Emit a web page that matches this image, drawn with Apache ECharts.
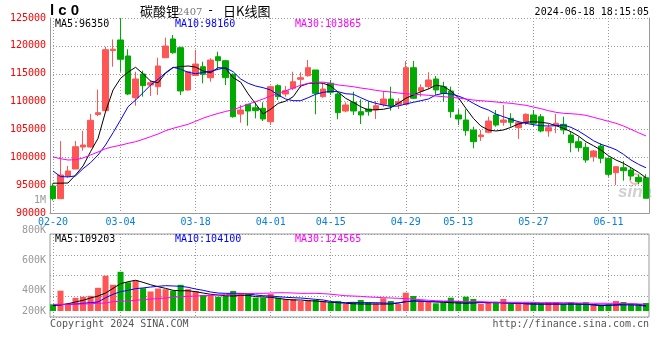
<!DOCTYPE html>
<html><head><meta charset="utf-8">
<script src="https://cdn.jsdelivr.net/npm/echarts@6/dist/echarts.min.js"></script>
<style>html,body{margin:0;padding:0;background:#fff}#c{width:660px;height:360px}</style>
</head><body><div id="c"></div>
<script>
const dates = ['02-20','02-21','02-22','02-23','02-26','02-27','02-28','02-29','03-01',
 '03-04','03-05','03-06','03-07','03-08','03-11','03-12','03-13','03-14','03-15',
 '03-18','03-19','03-20','03-21','03-22','03-25','03-26','03-27','03-28','03-29',
 '04-01','04-02','04-03','04-08','04-09','04-10','04-11','04-12',
 '04-15','04-16','04-17','04-18','04-19','04-22','04-23','04-24','04-25','04-26',
 '04-29','04-30','05-06','05-07','05-08','05-09','05-10',
 '05-13','05-14','05-15','05-16','05-17','05-20','05-21','05-22','05-23','05-24',
 '05-27','05-28','05-29','05-30','05-31','06-03','06-04','06-05','06-06','06-07',
 '06-11','06-12','06-13','06-14','06-17','06-18'];
const tickDates = ['02-20','03-04','03-18','04-01','04-15','04-29','05-13','05-27','06-11'];

const opens = [94890,92620,96680,97940,101880,101880,107700,108390,119170,121060,
 118190,110720,114960,112990,112690,117880,121240,119680,112100,114690,
 116270,114300,118060,117350,114910,107790,109530,108920,108820,106420,
 112870,111380,112400,114010,114660,115680,110900,113300,111380,108330,
 109890,108210,108690,108510,109530,110480,109530,109530,116090,111920,
 112690,114070,112690,111920,107620,106720,104930,103730,104520,107620,
 106310,107020,105340,106310,107620,107310,104750,105820,105950,104030,
 102830,101830,100140,102060,99860,97280,98170,97760,96450,96380];
const closes = [92620,96860,97580,101930,102240,106670,108030,119320,119410,117600,
 111380,114070,112870,113400,116400,119980,118780,111920,115370,116750,
 114910,117470,117350,114300,107310,108510,108330,108390,106900,112690,
 110900,111970,113580,114300,116090,111500,112270,111680,108030,109410,
 108330,107620,108210,109280,110480,109280,110000,116090,110610,112510,
 113890,112100,111500,108210,106900,104800,102830,104030,106540,105820,
 106720,106310,106240,107740,106130,104750,105340,106130,104930,102650,
 101760,99550,101160,99860,96990,98350,97630,96680,95660,92690];
const lows = [92330,92620,96380,97940,101220,101760,107440,108210,116270,115370,
 111200,109280,110900,111020,111200,117880,118600,111200,111970,114600,
 113300,113580,115980,112990,107130,106240,105700,107020,106540,105820,
 110300,110900,112100,112510,114480,107740,110720,111200,106850,108100,
 107620,106000,107490,106900,109100,108390,108690,109410,110480,110900,
 112270,111200,110000,107130,105820,103910,101650,102960,104340,105520,
 105700,105520,103310,105820,105520,104520,103730,104370,104160,100930,
 101040,99070,99250,98960,96560,95070,95840,95970,95200,92690];
const highs = [95380,102940,98480,102950,104800,107790,112190,119860,121150,125000,
 119390,115370,115550,113830,117880,121470,121950,119860,115500,119300,
 117170,117780,118960,117470,115090,109410,109530,109890,109890,112870,
 113120,112800,115370,115270,117470,115680,113300,113890,111680,109890,
 111790,110430,110120,110120,111920,112690,110610,117290,117290,113120,
 115270,114600,113580,112690,108640,108640,105520,104930,107310,108510,
 109410,107920,106540,107920,108510,107790,106000,107790,107310,104620,
 103730,102650,101340,102540,99860,98350,99370,98170,96990,96990];

const ma5 = [95400,95400,95430,96860,98480,101040,103440,108200,112100,114190,
 115300,116170,115000,113700,113400,115100,116100,116300,116400,116200,
 115500,115200,116100,116000,114300,113500,111400,109600,107800,108650,
 109700,110100,110900,112800,113250,113400,113300,112800,111700,110600,
 109890,109100,108510,108570,108640,108920,109710,110610,111200,111790,
 112270,112940,112760,111920,110720,108820,107020,105640,104930,104750,
 104930,105410,106000,106310,106420,106310,106130,105700,105230,104620,
 103850,102830,102110,101340,100320,99550,98960,98170,97350,96350];
const ma10 = [97580,96580,96520,96700,97990,99070,100450,102240,104440,106720,
 109100,110300,111610,112990,114010,115200,116170,115810,115270,115020,
 115230,115430,115800,116090,115370,114070,113300,112810,112510,112100,
 111200,110480,110180,110180,110720,111330,111680,111860,111790,111430,
 111330,110720,110120,109710,109410,109170,109230,109590,109890,110180,
 110480,111200,111500,111380,111020,110480,109710,109000,108510,107790,
 107310,106850,106420,106130,105880,105700,105640,105700,105820,105410,
 104750,103910,103010,102360,101930,101400,100570,99550,98780,98160];
const ma30 = [100090,99790,99550,99610,99910,100450,100990,101580,101930,102190,
 102540,102830,103260,103730,104210,104800,105230,105590,105950,106490,
 107050,107500,107900,108250,108550,109050,109550,110000,110500,111000,
 111500,111950,112450,112950,113300,113500,113500,113300,113000,112850,
 112690,112450,112270,112040,111860,111740,111560,111430,111330,111250,
 111150,111020,110900,110790,110660,110480,110300,110180,110070,109950,
 109820,109710,109530,109350,109050,108750,108390,108100,107920,107850,
 107740,107560,107200,106850,106490,106130,105640,105050,104440,103865];

const volumes = [64600,195700,70400,127000,137000,146500,223600,340000,252500,378000,
 276600,296000,219800,188000,216900,210000,195700,252500,210000,192800,
 154000,154000,138000,144600,192800,170600,170600,128000,128000,163900,
 128000,115700,115700,96400,106000,106000,96400,83900,96400,67500,
 83900,106000,83900,74200,122400,96400,67500,176400,144600,96400,
 96400,74200,83900,128000,96400,138000,115700,67500,83900,83900,
 115700,67500,83900,83900,83900,74200,83900,83900,67500,83900,
 74200,83900,67500,57800,64600,96400,86800,67500,67500,77000];
const volMa5 = [110000,116000,128000,145000,161000,183000,202000,231000,276000,321000,
 340000,354000,334000,311000,292000,276000,257000,253000,253000,244000,
 231000,219000,212000,205000,202000,209000,209000,196000,193000,190000,
 180000,170000,164000,164000,157000,154000,148000,142000,138000,132000,
 128000,125000,125000,125000,125000,125000,135000,148000,154000,154000,
 148000,145000,142000,138000,135000,132000,135000,138000,138000,142000,
 138000,132000,132000,128000,125000,125000,125000,125000,125000,125000,
 125000,122000,116000,109000,112000,116000,122000,125000,122000,109203];
const volMa10 = [116000,119000,122000,125000,132000,138000,145000,185000,219000,244000,
 257000,273000,280000,289000,296000,302000,299000,296000,286000,270000,
 257000,241000,231000,228000,228000,228000,222000,212000,205000,202000,
 196000,190000,186000,183000,177000,170000,164000,150000,142000,138000,
 142000,138000,138000,138000,135000,132000,135000,148000,154000,154000,
 151000,148000,148000,148000,145000,142000,142000,142000,138000,138000,
 135000,135000,132000,128000,125000,125000,125000,125000,125000,125000,
 125000,122000,119000,116000,116000,116000,116000,116000,113000,104100];
const volMa30 = [122000,122000,122000,125000,125000,128000,132000,135000,148000,151000,
 154000,161000,167000,173000,177000,183000,190000,196000,199000,202000,
 205000,209000,212000,215000,219000,222000,225000,228000,228000,231000,
 234000,234000,231000,228000,228000,228000,225000,220000,212000,205000,
 202000,199000,193000,190000,186000,183000,180000,177000,173000,167000,
 161000,157000,154000,154000,151000,148000,148000,148000,145000,142000,
 142000,142000,142000,142000,142000,138000,138000,138000,138000,138000,
 135000,135000,132000,132000,132000,132000,128000,128000,125000,124565];

const volTickValues = [200000, 400000, 600000, 800000];
const volTickLabels = ['200K', '400K', '600K', '800K'];
const volExtraLabel = '1M';

const RED = '#ff5555', GREEN = '#00aa00';
const MONO = '"DejaVu Sans Mono", monospace';
const isTick = (i) => tickDates.indexOf(dates[i]) >= 0;
const last = a => a[a.length - 1];
const dotted = () => ({color: '#999999', width: 1, type: [1, 2]});

const chart = echarts.init(document.getElementById('c'), null, {renderer: 'canvas'});
const volRich = {
  s0: {padding: [30, 0, 0, 0], color: '#999', fontFamily: MONO, fontSize: 10},
  s1: {padding: [30, 0, 0, 0], color: '#999', fontFamily: MONO, fontSize: 10},
  s2: {padding: [11, 0, 0, 0], color: '#999', fontFamily: MONO, fontSize: 10},
  s3: {padding: [0, 0, 8, 0], color: '#999', fontFamily: MONO, fontSize: 10}
};
const txt = (x, y, text, fill, font, align) => ({
  type: 'text', x: x, y: y, z: 100,
  style: {text: text, fill: fill, font: font, align: align || 'left', verticalAlign: 'middle'}
});

chart.setOption({
  animation: false,
  backgroundColor: '#fff',
  grid: [
    {left: 50, right: 11, top: 18, height: 195.3},
    {left: 53, right: 14, top: 18, height: 195.3},
    {left: 50, right: 11, top: 234, height: 83, show: true, borderColor: '#999', borderWidth: 1, backgroundColor: 'transparent'},
    {left: 53, right: 14, top: 234, height: 83},
    {left: 53, right: 14, top: 234, height: 77}
  ],
  xAxis: [
    {gridIndex: 0, type: 'category', data: dates, axisLine: {lineStyle: {color: '#999'}}, axisTick: {show: false}, axisLabel: {show: false}, splitLine: {show: false}},
    {gridIndex: 1, type: 'category', data: dates, boundaryGap: false, axisLine: {show: false}, axisTick: {show: false},
      axisLabel: {interval: isTick, color: '#0a80d8', fontFamily: MONO, fontSize: 10, margin: 4},
      splitLine: {show: true, interval: isTick, lineStyle: dotted()}},
    {gridIndex: 2, type: 'category', data: dates, show: false},
    {gridIndex: 3, type: 'category', data: dates, boundaryGap: false, axisLine: {show: false}, axisTick: {show: false},
      axisLabel: {show: false}, splitLine: {show: true, interval: isTick, lineStyle: dotted()}},
    {gridIndex: 4, type: 'category', data: dates, boundaryGap: false, show: false}
  ],
  yAxis: [
    {gridIndex: 0, type: 'value', min: 90000, max: 125000, interval: 5000,
      axisLine: {show: true, lineStyle: {color: '#999'}}, axisTick: {show: false},
      axisLabel: {color: '#ff0000', fontFamily: MONO, fontSize: 10, margin: 4, formatter: v => String(v)},
      splitLine: {show: true, lineStyle: dotted()}},
    {gridIndex: 0, type: 'value', position: 'right', min: 90000, max: 125000, interval: 5000,
      axisLine: {show: true, lineStyle: {color: '#999'}}, axisTick: {show: false}, axisLabel: {show: false}, splitLine: {show: false}},
    {gridIndex: 1, type: 'value', min: 90000, max: 125000, show: false},
    {gridIndex: 2, type: 'value', min: 0, max: 800000, interval: 200000,
      axisLine: {show: false}, axisTick: {show: false},
      axisLabel: {margin: 4, color: '#999', fontFamily: MONO, fontSize: 10, rich: volRich,
        formatter: v => { const k = volTickValues.indexOf(v); return k < 0 ? '' : '{s' + k + '|' + volTickLabels[k] + '}'; }},
      splitLine: {show: true, lineStyle: dotted()}},
    {gridIndex: 3, type: 'value', min: 0, max: 800000, show: false},
    {gridIndex: 4, type: 'value', min: 0, max: 800000 * 77 / 83, show: false}
  ],
  series: [
    {type: 'candlestick', xAxisIndex: 1, yAxisIndex: 2, barWidth: 6, clip: false,
      data: opens.map((o, i) => [o, closes[i], lows[i], highs[i]]),
      itemStyle: {color: RED, color0: GREEN, borderColor: RED, borderColor0: GREEN, borderWidth: 1}},
    {type: 'line', xAxisIndex: 1, yAxisIndex: 2, data: ma5, symbol: 'none', lineStyle: {color: '#000', width: 1}, z: 3},
    {type: 'line', xAxisIndex: 1, yAxisIndex: 2, data: ma10, symbol: 'none', lineStyle: {color: '#0000ff', width: 1}, z: 3},
    {type: 'line', xAxisIndex: 1, yAxisIndex: 2, data: ma30, symbol: 'none', lineStyle: {color: '#ff00ff', width: 1}, z: 3},
    {type: 'bar', xAxisIndex: 4, yAxisIndex: 5, data: volumes, barWidth: 6, clip: false,
      itemStyle: {color: p => closes[p.dataIndex] >= opens[p.dataIndex] ? RED : GREEN}},
    {type: 'line', xAxisIndex: 3, yAxisIndex: 4, data: volMa5, symbol: 'none', lineStyle: {color: '#000', width: 1}, z: 3},
    {type: 'line', xAxisIndex: 3, yAxisIndex: 4, data: volMa10, symbol: 'none', lineStyle: {color: '#0000ff', width: 1}, z: 3},
    {type: 'line', xAxisIndex: 3, yAxisIndex: 4, data: volMa30, symbol: 'none', lineStyle: {color: '#ff00ff', width: 1}, z: 3}
  ],
  graphic: [
    {type: 'text', x: 618, y: 192, z: 0, style: {text: 'sina', fill: '#d0d0d0', font: 'italic bold 17px "Liberation Sans"', verticalAlign: 'middle'}},
    {type: 'circle', z: 0, shape: {cx: 635, cy: 179, r: 5}, style: {fill: 'none', stroke: '#f4b8b8', lineWidth: 2}},
    txt(50, 11, 'l c 0', '#000', 'bold 15px "Liberation Sans"'),
    txt(140, 11, '碳酸锂', '#000', '13px "Noto Sans CJK SC"'),
    txt(177, 12, '2407', '#777', '10px "DejaVu Serif"'),
    txt(207, 11, '-', '#000', '12px "DejaVu Sans Mono"'),
    txt(223, 11, '日K线图', '#000', '13px "Noto Sans CJK SC"'),
    txt(649, 12, '2024-06-18 18:15:05', '#000', '10px ' + MONO, 'right'),
    txt(55, 24, 'MA5:' + last(ma5), '#000', '10px ' + MONO),
    txt(175, 24, 'MA10:' + last(ma10), '#0000ff', '10px ' + MONO),
    txt(295, 24, 'MA30:' + last(ma30), '#ff00ff', '10px ' + MONO),
    txt(55, 239, 'MA5:' + last(volMa5), '#000', '10px ' + MONO),
    txt(175, 239, 'MA10:' + last(volMa10), '#0000ff', '10px ' + MONO),
    txt(295, 239, 'MA30:' + last(volMa30), '#ff00ff', '10px ' + MONO),
    txt(46, 200, volExtraLabel, '#999', '10px ' + MONO, 'right'),
    txt(50, 324, 'Copyright 2024 SINA.COM', '#555', '10px ' + MONO),
    txt(649, 324, 'http://finance.sina.com.cn', '#555', '10px ' + MONO, 'right')
  ]
});
</script></body></html>
